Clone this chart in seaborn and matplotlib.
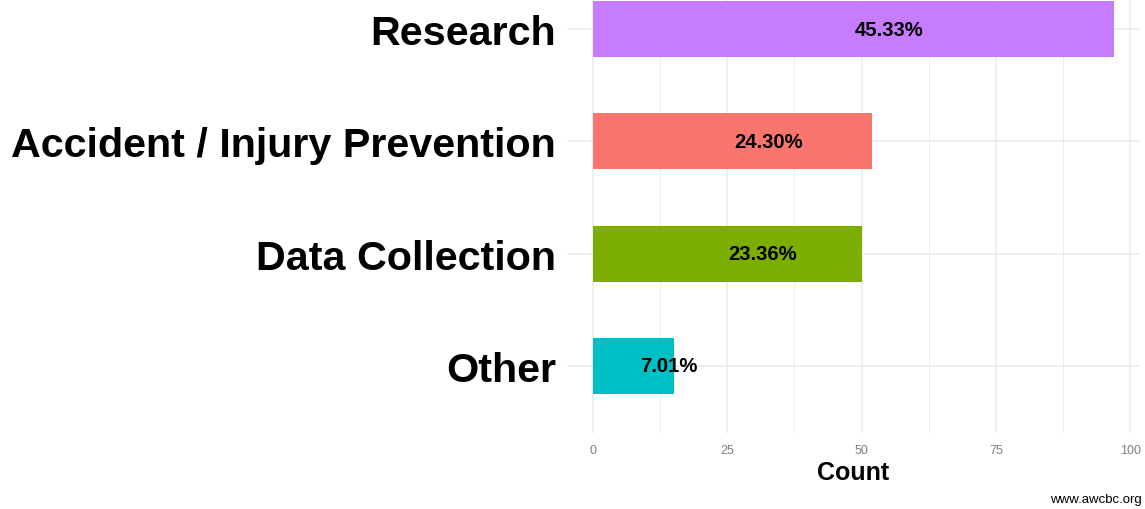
import pandas as pd
import seaborn as sns
import matplotlib as mpl
import matplotlib.pyplot as plt
from matplotlib.ticker import MultipleLocator
mpl.use('Agg')

categories = ['Research', 'Accident / Injury Prevention', 'Data Collection', 'Other']
counts = [97, 52, 50, 15]
pct_labels = ['45.33%', '24.30%', '23.36%', '7.01%']
bar_colors = ['#C77CFF', '#F8766D', '#7CAE00', '#00BFC4']
x_ticks = [0, 25, 50, 75, 100]

df = pd.DataFrame({'category': categories, 'count': counts, 'label': pct_labels})

sns.set_style('white')
plt.rcParams['font.family'] = ['Liberation Sans', 'DejaVu Sans']

fig = plt.figure(figsize=(11.45, 5.1), dpi=100)
ax = fig.add_axes([567 / 1145, 76 / 510, 573 / 1145, 434 / 510])

sns.barplot(data=df, x='count', y='category', hue='category', order=categories,
            palette=dict(zip(categories, bar_colors)), width=0.5, orient='h',
            legend=False, ax=ax, saturation=1, linewidth=0)

# labels sit a little right of the bar middle
for i, row in df.iterrows():
  ax.text(row['count'] / 2 + 6.6, i, row['label'], ha='center', va='center',
          fontsize=14.6, fontweight='bold', color='black')

ax.set_xlim(-4.85, 101.85)
ax.set_ylim(3.6, -0.27)
ax.set_xticks(x_ticks)
ax.xaxis.set_minor_locator(MultipleLocator(12.5))
ax.grid(True, which='major', color='#EBEBEB', linewidth=1.1)
ax.grid(True, which='minor', axis='x', color='#EBEBEB', linewidth=0.6)
ax.set_axisbelow(True)
for s in ax.spines.values():
  s.set_visible(False)

ax.tick_params(axis='x', which='both', length=0, pad=8, labelsize=9, labelcolor='#7F7F7F')
ax.tick_params(axis='y', length=0, pad=8, labelsize=29.7, labelcolor='black')
for lab in ax.get_yticklabels():
  lab.set_fontweight('bold')

ax.set_ylabel('')
ax.set_xlabel('Count', fontsize=18, fontweight='bold', color='black', labelpad=3)

fig.text(1142 / 1145, 1 - 500 / 510, 'www.awcbc.org', ha='right', va='center', fontsize=9.5, color='black')

plt.savefig('out.png', dpi=100)
plt.close(fig)
